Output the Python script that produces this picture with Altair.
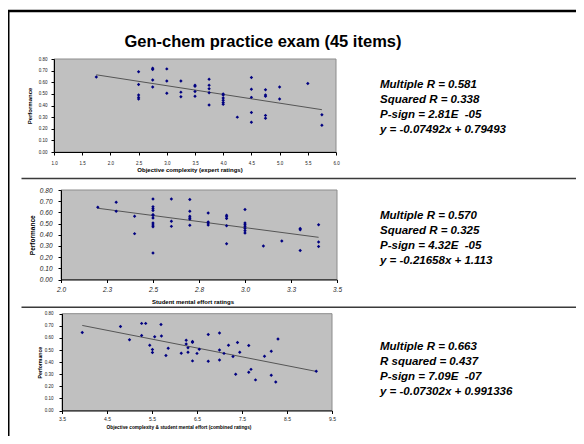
import altair as alt
import pandas as pd

FONT = "Liberation Sans"
W, H = 568, 428

# ---------------- data ----------------
title_text = "Gen-chem practice exam (45 items)"

# Panel 1: objective complexity (expert ratings)
p1_x = [1.75,
        2.5, 2.5, 2.5, 2.5, 2.5,
        2.75, 2.75, 2.75, 2.75,
        3.0, 3.0, 3.0,
        3.25, 3.25, 3.25,
        3.5, 3.5, 3.5, 3.5,
        3.75, 3.75, 3.75, 3.75, 3.75,
        4.0, 4.0, 4.0, 4.0, 4.0, 4.0,
        4.25,
        4.5, 4.5, 4.5, 4.5, 4.5,
        4.75, 4.75, 4.75, 4.75, 4.75,
        5.0, 5.0,
        5.5,
        5.75, 5.75]
p1_y = [0.645,
        0.69, 0.58, 0.49, 0.47, 0.455,
        0.72, 0.71, 0.62, 0.56,
        0.715, 0.61, 0.505,
        0.61, 0.515, 0.475,
        0.575, 0.565, 0.52, 0.48,
        0.625, 0.575, 0.545, 0.51, 0.405,
        0.50, 0.49, 0.465, 0.445, 0.425, 0.41,
        0.30,
        0.64, 0.54, 0.47, 0.34, 0.255,
        0.535, 0.49, 0.48, 0.315, 0.29,
        0.56, 0.455,
        0.59,
        0.32, 0.23]
t1_x = [1.75, 5.75]
t1_y = [0.664, 0.364]
p1_ticks = [1.0, 1.5, 2.0, 2.5, 3.0, 3.5, 4.0, 4.5, 5.0, 5.5, 6.0]
p1_title = "Objective complexity (expert ratings)"
p1_stats = ["Multiple R = 0.581", "Squared R = 0.338",
            "P-sign = 2.81E\u00a0 -05", "y = -0.07492x + 0.79493"]

# Panel 2: student mental effort ratings
p2_x = [2.2,
        2.3, 2.3,
        2.4, 2.4,
        2.5, 2.5, 2.5, 2.5, 2.5, 2.5, 2.5, 2.5, 2.5, 2.5, 2.5,
        2.6, 2.6, 2.6,
        2.7, 2.7, 2.7, 2.7, 2.7, 2.7,
        2.8, 2.8, 2.8, 2.8,
        2.9, 2.9, 2.9, 2.9, 2.9,
        3.0, 3.0, 3.0, 3.0, 3.0, 3.0, 3.0,
        3.1,
        3.2,
        3.3, 3.3, 3.3,
        3.4, 3.4, 3.4]
p2_y = [0.645,
        0.69, 0.61,
        0.565, 0.41,
        0.72, 0.65, 0.633, 0.617, 0.58, 0.572, 0.55, 0.505, 0.488, 0.472, 0.236,
        0.72, 0.52, 0.475,
        0.715, 0.61, 0.565, 0.55, 0.54, 0.485,
        0.595, 0.515, 0.505, 0.487,
        0.575, 0.56, 0.545, 0.48, 0.32,
        0.625, 0.505, 0.49, 0.475, 0.455, 0.435, 0.415,
        0.30,
        0.345,
        0.455, 0.445, 0.26,
        0.49, 0.335, 0.295]
t2_x = [2.2, 3.4]
t2_y = [0.637, 0.377]
p2_ticks = [2.0, 2.25, 2.5, 2.75, 3.0, 3.25, 3.5]
p2_title = "Student mental effort ratings"
p2_stats = ["Multiple R = 0.570", "Squared R = 0.325",
            "P-sign = 4.32E\u00a0 -05", "y = -0.21658x + 1.113"]

# Panel 3: combined ratings
p3_x = [3.95, 4.8, 5.0, 5.27, 5.36, 5.27, 5.45, 5.51, 5.51, 5.56,
        5.70, 5.71, 5.81, 5.86, 6.15, 6.26, 6.26, 6.3, 6.3, 6.4,
        6.4, 6.4, 6.5, 6.55, 6.75, 6.75, 7.0, 7.0, 7.0, 7.1,
        7.2, 7.3, 7.36, 7.4, 7.45, 7.65, 7.65, 7.7, 7.8, 8.0,
        8.15, 8.15, 8.25, 8.3, 9.15]
p3_y = [0.645, 0.695, 0.585, 0.72, 0.72, 0.62, 0.54, 0.505, 0.48, 0.61,
        0.71, 0.615, 0.455, 0.515, 0.473, 0.58, 0.55, 0.518, 0.482, 0.571,
        0.563, 0.41, 0.472, 0.506, 0.628, 0.407, 0.641, 0.50, 0.417, 0.472,
        0.54, 0.446, 0.299, 0.562, 0.481, 0.537, 0.316, 0.34, 0.253, 0.449,
        0.489, 0.291, 0.235, 0.591, 0.325]
t3_x = [3.95, 9.15]
t3_y = [0.703, 0.323]
p3_ticks = [3.5, 4.5, 5.5, 6.5, 7.5, 8.5, 9.5]
p3_title = "Objective complexity & student mental effort (combined ratings)"
p3_stats = ["Multiple R = 0.663", "R squared = 0.437",
            "P-sign = 7.09E\u00a0 -07", "y = -0.07302x + 0.991336"]

y_ticks = [0.0, 0.1, 0.2, 0.3, 0.4, 0.5, 0.6, 0.7, 0.8]
y_title = "Performance"


def panel(px, py, tx, ty, xdom, xticks, xtitle, xr, yr, st):
    """Returns a flat list of layers; every layer carries the same explicit
    domain and pixel range, so they all map identically."""
    def xs():
        return alt.Scale(domain=xdom, range=xr, nice=False, zero=False)

    def ys():
        return alt.Scale(domain=[0, 0.8], range=yr, nice=False, zero=False)

    common = dict(grid=False, domainColor="black", tickColor="black",
                  domainWidth=1, tickWidth=1, tickSize=3,
                  labelFont=FONT, labelColor="#222", labelOverlap=False,
                  labelFlush=False, titleFont=FONT, titleFontWeight="bold",
                  titleColor="black", zindex=2)
    xaxis = alt.Axis(orient="bottom", offset=yr[0] - H, values=xticks,
                     format=".1f", title=xtitle,
                     labelFontSize=st["xl"], labelFontStyle=st["style"],
                     labelPadding=st["xlp"], titleFontSize=st["xt"],
                     titleX=st["tx"], titleY=st["ty"], **common)
    yaxis = alt.Axis(orient="left", offset=-xr[0], values=y_ticks,
                     format=".2f", title=y_title,
                     labelFontSize=st["yl"], labelFontStyle=st["style"],
                     labelPadding=st["ylp"], titleFontSize=st["yt"],
                     titlePadding=st["ytp"], **common)
    bg_df = pd.DataFrame({"x": [xdom[0]], "x2": [xdom[1]],
                          "y": [0.0], "y2": [0.8]})
    bg = alt.Chart(bg_df).mark_rect(fill="#C0C0C0", stroke="#8c8c8c",
                                    strokeWidth=1).encode(
        x=alt.X("x:Q", scale=xs(), axis=xaxis), x2="x2",
        y=alt.Y("y:Q", scale=ys(), axis=yaxis), y2="y2")
    line = alt.Chart(pd.DataFrame({"x": tx, "y": ty})).mark_line(
        color="#555555", strokeWidth=1).encode(
        x=alt.X("x:Q", scale=xs(), axis=None),
        y=alt.Y("y:Q", scale=ys(), axis=None))
    pts = alt.Chart(pd.DataFrame({"x": px, "y": py})).mark_point(
        shape="diamond", filled=True, size=12, color="#000080",
        opacity=1).encode(
        x=alt.X("x:Q", scale=xs(), axis=None),
        y=alt.Y("y:Q", scale=ys(), axis=None))
    return [bg, line, pts]


one = pd.DataFrame({"a": [0]})


def stats(lines, y):
    return alt.Chart(one).mark_text(
        text=lines, align="left", baseline="alphabetic", font=FONT,
        fontSize=11.5, fontWeight="bold", fontStyle="italic",
        lineHeight=15, color="black").encode(
        x=alt.value(372), y=alt.value(y))


def hrule(y, x1, x2, color, sw):
    return alt.Chart(one).mark_rule(color=color, strokeWidth=sw).encode(
        x=alt.value(x1), x2=alt.value(x2), y=alt.value(y))


panel1 = panel(p1_x, p1_y, t1_x, t1_y, [1.0, 6.0], p1_ticks, p1_title,
               [46, 328], [144, 51],
               dict(xl=4.5, yl=4.5, style="normal", xlp=5, ylp=4,
                    xt=6, tx=181.5, ty=14.5, yt=6, ytp=6))
panel2 = panel(p2_x, p2_y, t2_x, t2_y, [2.0, 3.5], p2_ticks, p2_title,
               [53, 329], [271.5, 182],
               dict(xl=6.5, yl=6.5, style="italic", xlp=4, ylp=6,
                    xt=6, tx=184.5, ty=18.5, yt=6.5, ytp=4))
panel3 = panel(p3_x, p3_y, t3_x, t3_y, [3.5, 9.5], p3_ticks, p3_title,
               [54, 324], [402.5, 305.7],
               dict(xl=5, yl=4.5, style="normal", xlp=3, ylp=6,
                    xt=4.75, tx=170.5, ty=14, yt=5.2, ytp=2))

title = alt.Chart(one).mark_text(
    text=title_text, align="center", baseline="alphabetic", font=FONT,
    fontSize=16.5, fontWeight="bold", color="black").encode(
    x=alt.value(255), y=alt.value(39))

frame_top = hrule(3, 0, W, "black", 2.5)
frame_left = alt.Chart(one).mark_rule(color="black", strokeWidth=2).encode(
    x=alt.value(0.5), y=alt.value(2), y2=alt.value(H))
sep1 = hrule(170.5, 13.5, 568.5, "#3a3a3a", 1.5)
sep2 = hrule(299.3, 13.5, 568.5, "#3a3a3a", 1.5)

layers = [frame_top, frame_left, title, sep1, sep2] + panel1 + panel2 + panel3 + [
    stats(p1_stats, 80), stats(p2_stats, 211), stats(p3_stats, 342)]

chart = alt.layer(*layers).resolve_scale(
    x="independent", y="independent").properties(
    width=W, height=H, autosize=alt.AutoSizeParams(type="none"),
    padding=0, background="white",
).configure_view(stroke=None)

chart.save("out.html", embed_options={"renderer": "svg", "actions": False})
